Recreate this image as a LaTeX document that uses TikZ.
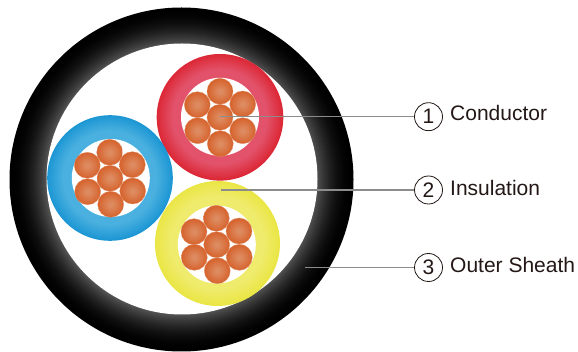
\documentclass[tikz,border=0pt]{standalone}
\usepackage{fontspec}
\setmainfont{Liberation Sans}
\definecolor{redin}{HTML}{E2536B}\definecolor{redout}{HTML}{DC2836}
\definecolor{bluein}{HTML}{4AB0DF}\definecolor{blueout}{HTML}{1C97D4}
\definecolor{yelin}{HTML}{EFEB6C}\definecolor{yelout}{HTML}{EAE645}
\definecolor{cuin}{HTML}{DD8A60}\definecolor{cuout}{HTML}{D6642E}
\definecolor{cuedge}{HTML}{E08C62}\definecolor{inkc}{HTML}{231815}
\pgfdeclareradialshading{cushade}{\pgfpoint{0bp}{0bp}}{color(0bp)=(cuin); color(4bp)=(cuin); color(24bp)=(cuout); color(50bp)=(cuout)}
\newcommand{\ringfill}[5]{% centre, outer r, inner r, inner colour, outer colour
  \foreach \s in {0,...,24}{
    \pgfmathsetmacro{\rr}{#2-\s*(#2-#3)/24}
    \pgfmathsetmacro{\pp}{min(100,\s/24/0.65*100)}
    \fill[#4!\pp!#5] (#1) circle (\rr pt);
  }
}
\tikzset{
  strand/.style={shading=cushade,draw=cuedge,line width=0.3pt},
  leader/.style={draw=black!45,line width=1.1pt},
  numring/.style={circle,draw=inkc,line width=0.8pt,minimum size=28pt,inner sep=0pt,text=inkc,font=\fontsize{21}{21}\selectfont},
  lab/.style={anchor=base west,inner sep=0pt,text=inkc,font=\fontsize{21}{21}\selectfont}
}
\begin{document}
\begin{tikzpicture}[x=1pt,y=-1pt]
\useasboundingbox (0,0) rectangle (578,352);
\fill[white] (0,0) rectangle (578,352);
% sheath
\foreach \s in {0,...,38}{
  \pgfmathsetmacro{\rr}{172-\s}
  \pgfmathsetmacro{\kk}{100-34*(\s/37)*(\s/37)}
  \fill[black!\kk] (181.5,179.5) circle (\rr pt);
}
\fill[white] (182,179) circle (135.5pt);
% cores
\ringfill{220,117.3}{63.3}{39}{redin}{redout}
\fill[white] (220,116.8) circle (39pt);
\ringfill{110,178}{62.8}{39}{bluein}{blueout}
\fill[white] (110.8,178) circle (39pt);
\ringfill{217.5,243.5}{62.5}{39}{yelin}{yelout}
\fill[white] (216.8,244.5) circle (39pt);
% strands
\foreach \x/\y in {220/91.3,197.3/104.7,242.7/104,220/117.3,197.7/130.7,242.7/130.7,220.3/143.7,
  109.7/152.3,87.3/165.3,132.3/164.7,110/178.3,87.7/191.7,132.7/191,110.7/204.3,
  216.3/218.3,194/231.7,239/231,216.7/244.7,194.3/257.3,239.3/257.3,217.3/270.7}
  \shade[strand] (\x,\y) circle (13pt);
% labels
\node[numring] (n1) at (428.5,116.7) {1};
\node[numring] (n2) at (428.5,190) {2};
\node[numring] (n3) at (428.5,267.5) {3};
\node[lab] (t1) at (450,120.5) {Conductor};
\node[lab] (t2) at (450,195.5) {Insulation};
\node[lab] (t3) at (450,272.5) {Outer Sheath};
\coordinate (c1) at (220,116.7);
\coordinate (c2) at (220.7,190);
\coordinate (c3) at (305,267.5);
\draw[leader] (c1) -- (n1.west);
\draw[leader] (c2) -- (n2.west);
\draw[leader] (c3) -- (n3.west);
\end{tikzpicture}
\end{document}
